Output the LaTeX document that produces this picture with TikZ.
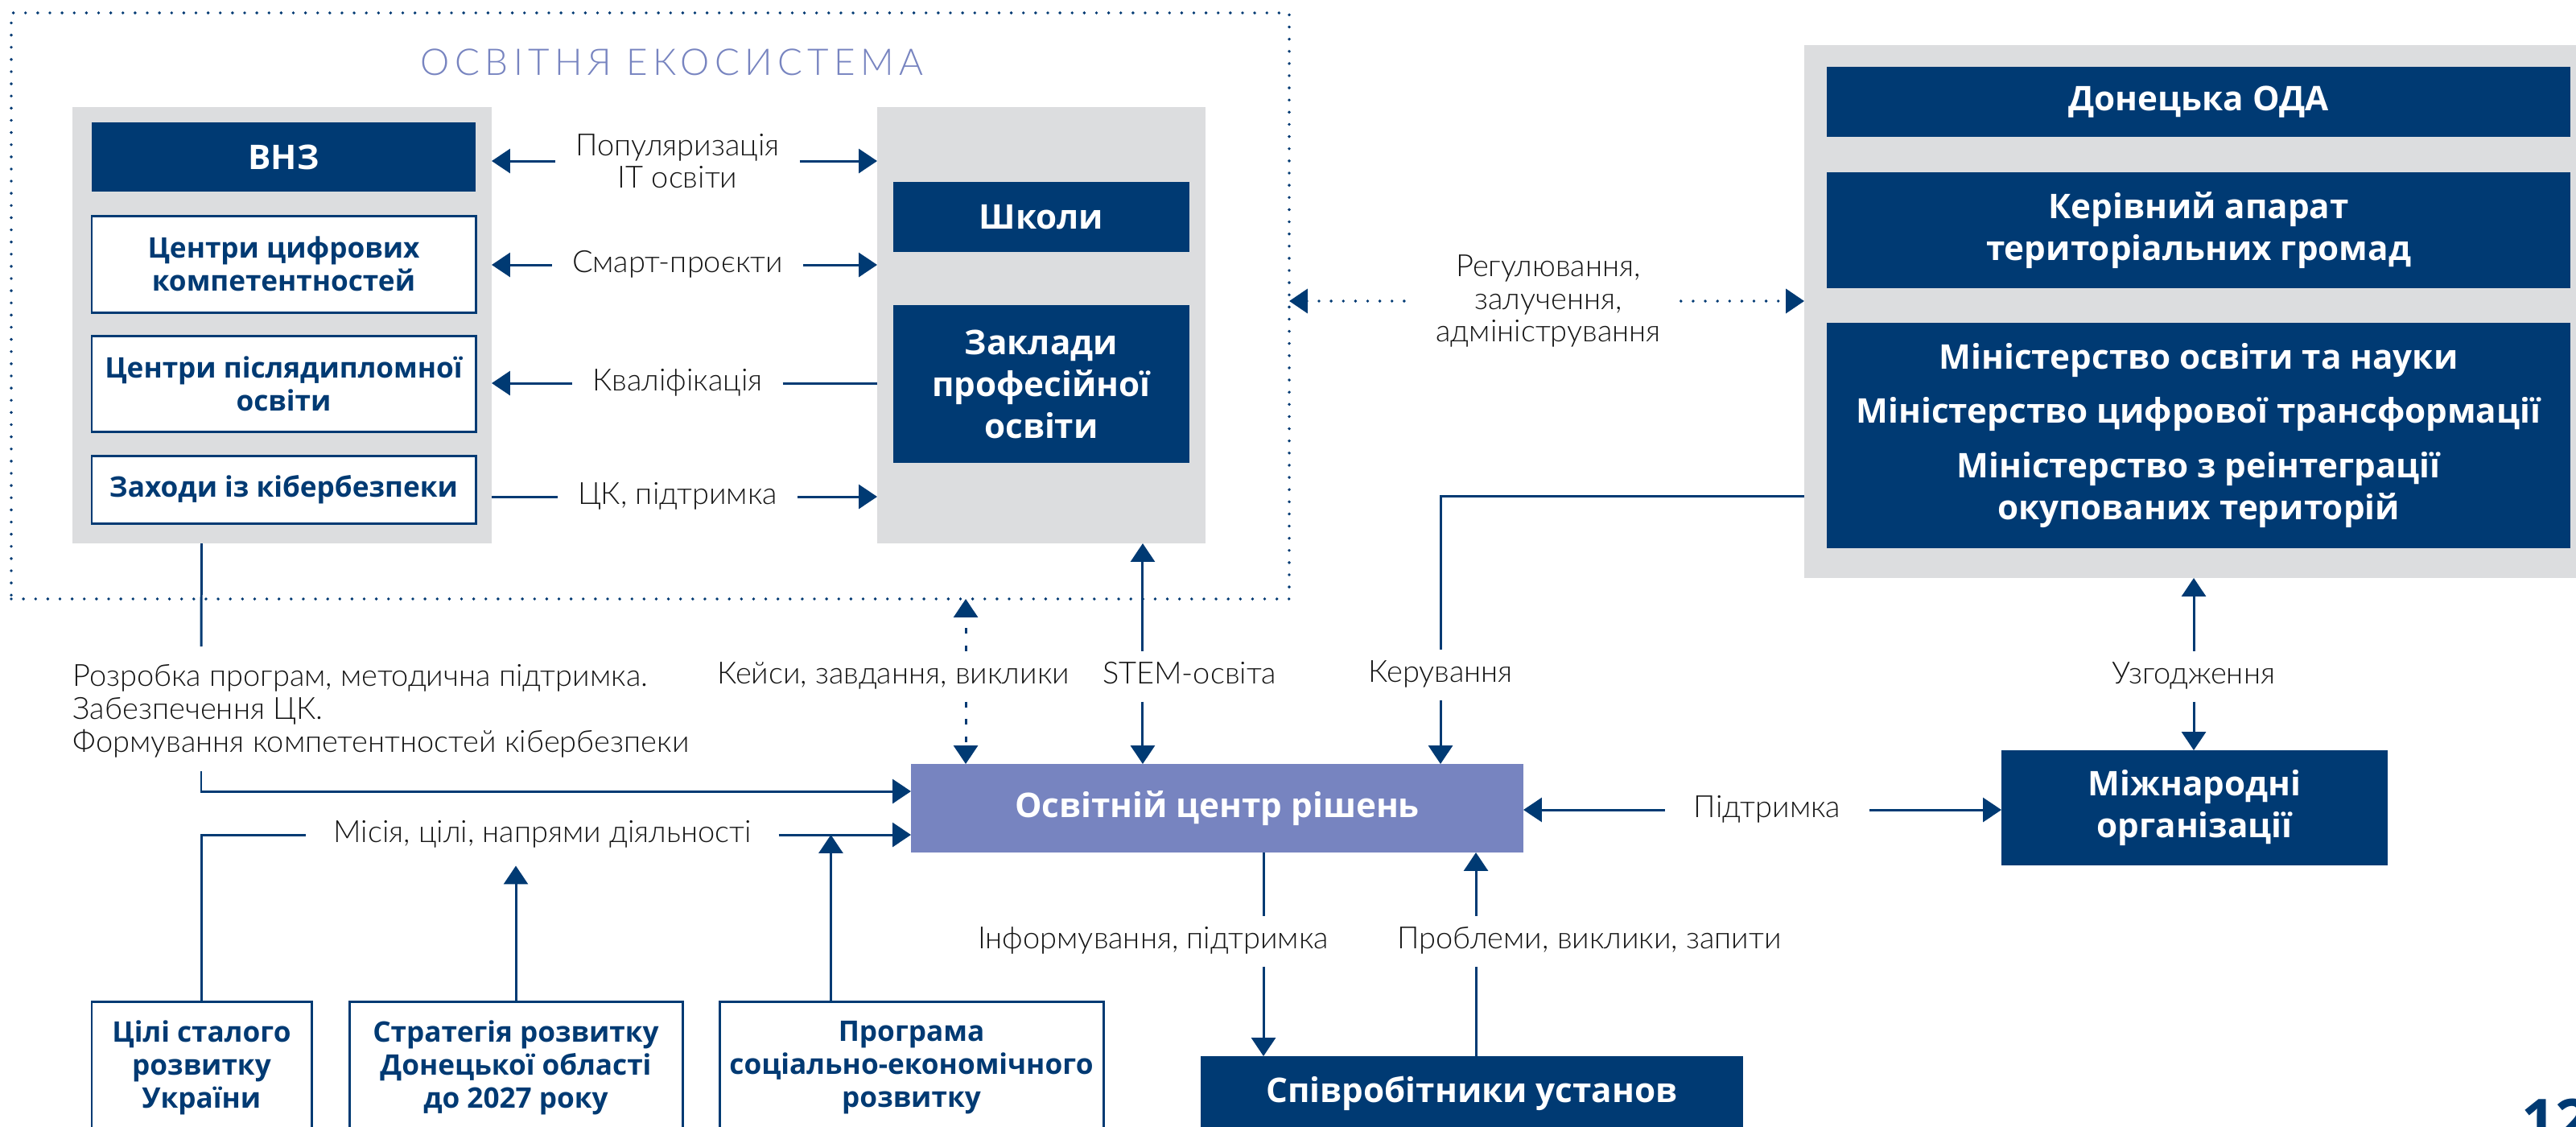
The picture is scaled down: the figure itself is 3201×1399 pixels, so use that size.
\documentclass[tikz,border=0pt]{standalone}
\usepackage{fontspec}
\usetikzlibrary{arrows.meta}
\setmainfont{Open Sans}
\IfFontExistsTF{Lato Light}
 {\newfontfamily\lblfam{Lato Light}\newfontfamily\ttlfam{Lato Light}[LetterSpace=14]}
 {\newfontfamily\lblfam{Lato}\newfontfamily\ttlfam{Lato}[LetterSpace=14]}
\definecolor{navy}{HTML}{003A73}
\definecolor{lav}{HTML}{7784C0}
\definecolor{panelgrey}{HTML}{DCDDDF}
\definecolor{lbltxt}{HTML}{161616}
\newcommand\bigbold{\bfseries\fontsize{12pt}{14.8pt}\selectfont}
\newcommand\smbold{\bfseries\fontsize{10pt}{11.7pt}\selectfont}
\newcommand\lbltext{\lblfam\fontsize{10.8pt}{11.6pt}\selectfont}
\newcommand\ttltext{\ttlfam\fontsize{13pt}{15pt}\selectfont}
\newcommand\rbox[7]{\node[#6,minimum width={(#4-#2)*0.01cm},minimum height={(#5-#3)*0.01cm}] (#1) at ({(#2+#4)/2},{(#3+#5)/2}) {#7};}
\tikzset{
 navybox/.style={fill=navy,text=white,font=\bigbold,align=center,inner sep=0pt,outer sep=0pt},
 centerbox/.style={fill=lav,text=white,font=\bigbold,align=center,inner sep=0pt,outer sep=0pt},
 wbox/.style={draw=navy,line width=0.85pt,fill=white,text=navy,font=\smbold,align=center,inner sep=0pt,outer sep=0pt},
 greypanel/.style={fill=panelgrey,inner sep=0pt,outer sep=0pt},
 ecoframe/.style={draw=navy,line width=1.1pt,line cap=round,dash pattern=on 0pt off 4.3pt,inner sep=0pt,outer sep=0pt},
 lbl/.style={text=lbltxt,font=\lbltext,inner xsep=7pt,inner ysep=3.5pt,text height=8pt,text depth=2.5pt},
 lblm/.style={text=lbltxt,font=\lbltext,align=center,inner xsep=7pt,inner ysep=2pt},
 ttl/.style={text=lav,font=\ttltext,inner sep=0pt},
 conn/.style={draw=navy,line width=0.85pt},
 dotln/.style={draw=navy,line width=1.1pt,line cap=round,dash pattern=on 0pt off 4.3pt},
 keydash/.style={draw=navy,line width=0.85pt,dash pattern=on 2pt off 4.2pt},
}
\begin{document}
\begin{tikzpicture}[x=0.01cm,y=-0.01cm,>={Triangle[length=6.5pt,width=8.5pt]}]
\useasboundingbox (0,0) rectangle (3201,1399);
\fill[white] (0,0) rectangle (3201,1399);
% ecosystem frame
\rbox{eco}{14}{16}{1602}{744}{ecoframe}{}
\node[ttl] (title) at (835,77) {ОСВІТНЯ ЕКОСИСТЕМА};
% left panel
\rbox{lp}{90}{133}{611}{675}{greypanel}{}
\rbox{vnz}{114}{152}{591}{238}{navybox}{ВНЗ}
\rbox{ccc}{114}{268}{591}{388}{wbox}{Центри цифрових\\компетентностей}
\rbox{cpo}{114}{417}{591}{536}{wbox}{Центри післядипломної\\освіти}
\rbox{zkb}{114}{566}{591}{650}{wbox}{Заходи із кібербезпеки}
% right panel
\rbox{rp}{1090}{133}{1498}{675}{greypanel}{}
\rbox{shk}{1110}{226}{1478}{313}{navybox}{Школи}
\rbox{zpo}{1110}{379}{1478}{575}{navybox}{Заклади\\професійної\\освіти}
% government panel
\rbox{gp}{2242}{56}{3215}{718}{greypanel}{}
\rbox{oda}{2270}{83}{3194}{170}{navybox}{Донецька ОДА}
\rbox{kat}{2270}{214}{3194}{358}{navybox}{Керівний апарат\\територіальних громад}
\rbox{min}{2270}{401}{3194}{681}{navybox}{Міністерство освіти та науки\\[4.3pt]Міністерство цифрової трансформації\\[4.3pt]Міністерство з реінтеграції\\окупованих територій}
% centre and others
\rbox{ocr}{1132}{949}{1893}{1059}{centerbox}{Освітній центр рішень}
\rbox{mzh}{2487}{932}{2967}{1075}{navybox}{Міжнародні\\організації}
\rbox{spv}{1492}{1312}{2166}{1404}{navybox}{Співробітники установ}
\rbox{cili}{114}{1244}{387}{1408}{wbox}{Цілі сталого\\розвитку\\України}
\rbox{strat}{434}{1244}{848}{1408}{wbox}{Стратегія розвитку\\Донецької області\\до 2027 року}
\rbox{prog}{894}{1244}{1371}{1408}{wbox}{Програма\\соціально-економічного\\розвитку}
% labels
\node[lblm] (pop) at (842,200) {Популяризація\\IT освіти};
\node[lbl] (smart) at (842,329) {Смарт-проєкти};
\node[lbl] (kval) at (842,476) {Кваліфікація};
\node[lbl] (ck) at (842,617) {ЦК, підтримка};
\node[lblm] (reg) at (1924,374) {Регулювання,\\залучення,\\адміністрування};
\node[lblm,align=left,anchor=west,inner sep=0pt] (rozr) at (90,883) {Розробка програм, методична підтримка.\\Забезпечення ЦК.\\Формування компетентностей кібербезпеки};
\node[lbl] (keys) at (1110,840) {Кейси, завдання, виклики};
\node[lbl] (stem) at (1478,840) {STEM-освіта};
\node[lbl] (ker) at (1790,838) {Керування};
\node[lbl] (uzg) at (2726,840) {Узгодження};
\node[lbl,inner xsep=9.5pt] (misia) at (674,1037) {Місія, цілі, напрями діяльності};
\node[lbl,inner xsep=10pt] (pidt) at (2196,1006) {Підтримка};
\node[lbl] (inf) at (1433,1169) {Інформування, підтримка};
\node[lbl] (prob) at (1975,1169) {Проблеми, виклики, запити};
\node[text=navy,font=\bfseries\fontsize{21pt}{21pt}\selectfont,anchor=base west,inner sep=0pt] (pg) at (3133,1418) {12};
% coordinates
\coordinate (rz1) at (250,803);
\coordinate (rz2) at (250,958);
\coordinate (kx) at ([xshift=0.68cm]ocr.north west);
\coordinate (sx) at ([xshift=-0.78cm]rp.south east);
% connectors inside ecosystem
\draw[conn,<-] (lp.east |- pop.west) -- (pop.west);
\draw[conn,->] (pop.east) -- (rp.west |- pop.east);
\draw[conn,<-] (lp.east |- smart.west) -- (smart.west);
\draw[conn,->] (smart.east) -- (rp.west |- smart.east);
\draw[conn,<-] (lp.east |- kval.west) -- (kval.west);
\draw[conn] (kval.east) -- (rp.west |- kval.east);
\draw[conn] (lp.east |- ck.west) -- (ck.west);
\draw[conn,->] (ck.east) -- (rp.west |- ck.east);
% regulation
\draw[dotln,<-] (eco.east |- reg.west) -- (reg.west);
\draw[dotln,->] (reg.east) -- (gp.west |- reg.east);
% development line
\draw[conn] (cili.north |- lp.south) -- (rz1);
\draw[conn,->] (rz2) |- ([yshift=0.21cm]ocr.west);
% mission
\draw[conn] (cili.north) |- (misia.west);
\draw[conn,->] (misia.east) -- (ocr.west |- misia.east);
\draw[conn,->] (strat.north) -- ([yshift=-2pt]strat.north |- misia.south);
\draw[conn,->] ([xshift=-1cm]prog.north) -- ([xshift=-1cm]prog.north |- misia.east);
% cases (dashed)
\draw[keydash,->] (keys.north -| kx) -- (kx |- eco.south);
\draw[keydash,->] (keys.south -| kx) -- (kx);
% STEM
\draw[conn,->] (stem.north -| sx) -- (sx);
\draw[conn,->] (stem.south -| sx) -- (sx |- ocr.north);
% management
\draw[conn] (gp.west |- 0,616) -| (ker.north);
\draw[conn,->] (ker.south) -- (ker.south |- ocr.north);
% agreement
\draw[conn,->] (uzg.north) -- (uzg.north |- gp.south);
\draw[conn,->] (uzg.south) -- (uzg.south |- mzh.north);
% support
\draw[conn,->] (pidt.west) -- (ocr.east |- pidt.west);
\draw[conn,->] (pidt.east) -- (mzh.west |- pidt.east);
% informing / problems
\draw[conn] (ocr.south -| 1570,0) -- (inf.north -| 1570,0);
\draw[conn,->] (inf.south -| 1570,0) -- (spv.north -| 1570,0);
\draw[conn] (spv.north -| 1834,0) -- (prob.south -| 1834,0);
\draw[conn,->] (prob.north -| 1834,0) -- (ocr.south -| 1834,0);
\end{tikzpicture}
\end{document}
